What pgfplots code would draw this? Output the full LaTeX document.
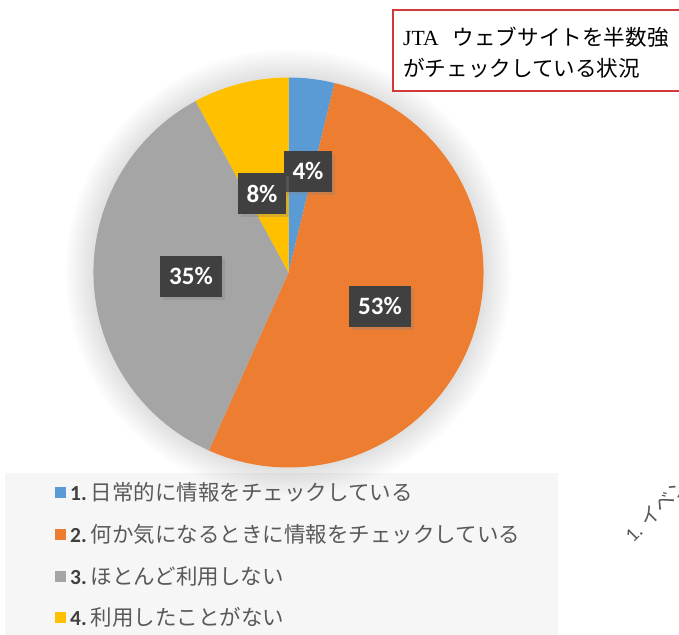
\documentclass[border=0pt]{standalone}
\usepackage{pgfplots}
\pgfplotsset{compat=1.18}
\usepackage{pgfplotstable}
\usepackage{fontspec}
\setmainfont{Carlito}
\newfontfamily\jp{Noto Sans CJK JP}
\newfontfamily\tnr{Liberation Serif}
\usetikzlibrary{shadows}

\definecolor{c0}{HTML}{5B9BD5}
\definecolor{c1}{HTML}{ED7D31}
\definecolor{c2}{HTML}{A5A5A5}
\definecolor{c3}{HTML}{FFC000}
\definecolor{lblbg}{HTML}{404040}
\definecolor{legtxt}{HTML}{595959}
\definecolor{legnum}{HTML}{404040}
\definecolor{legbg}{HTML}{F6F6F6}
\definecolor{titlered}{HTML}{D23A3A}

% share in percent, label position (axis units)
\pgfplotstableread{
share lx ly
3.8 0.100 0.518
52.9 0.469 -0.174
35.4 -0.500 -0.018
7.9 -0.136 0.405
}\piedata

% cumulative angles, clockwise from the top
\newcommand\setangles{%
  \gdef\acc{90}%
  \pgfplotsforeachungrouped \i in {0,...,3}{%
    \pgfplotstablegetelem{\i}{share}\of\piedata
    \pgfmathsetmacro\b{\acc-3.6*\pgfplotsretval}%
    \pgfmathtruncatemacro\r{round(\pgfplotsretval)}%
    \expandafter\xdef\csname sa\i\endcsname{\acc}%
    \expandafter\xdef\csname ea\i\endcsname{\b}%
    \expandafter\xdef\csname pc\i\endcsname{\r}%
    \pgfplotstablegetelem{\i}{lx}\of\piedata
    \expandafter\xdef\csname lx\i\endcsname{\pgfplotsretval}%
    \pgfplotstablegetelem{\i}{ly}\of\piedata
    \expandafter\xdef\csname ly\i\endcsname{\pgfplotsretval}%
    \xdef\acc{\b}%
  }}

\begin{document}
\setangles
\begin{tikzpicture}[
    lbl/.style={fill=lblbg, text=white, inner xsep=9bp, inner ysep=0pt,
      minimum height=41bp,
      font=\bfseries\fontsize{25bp}{25bp}\selectfont,
      drop shadow={shadow xshift=3bp, shadow yshift=-3bp, opacity=0.3}}]
  \useasboundingbox (0,0) rectangle (679bp,635bp);
  \clip (0,0) rectangle (679bp,635bp);

  % legend background
  \fill[legbg] (5bp,-2bp) rectangle (558bp,162bp);

  % soft glow around the pie
  \foreach \k in {1,...,10}
    \fill[black, opacity=0.011] (288.5bp,362.5bp) circle[radius={195bp+\k*2.8bp}];

  \begin{axis}[
      at={(288.5bp,362.5bp)}, anchor=center,
      x=195bp, y=195bp,
      xmin=-1, xmax=1, ymin=-1, ymax=1,
      hide axis, clip=false]
    \pgfplotsinvokeforeach{0,...,3}{
      \fill[c#1] (axis cs:0,0)
        -- (axis cs:{cos(\csname sa#1\endcsname)},{sin(\csname sa#1\endcsname)})
        arc[start angle=\csname sa#1\endcsname, end angle=\csname ea#1\endcsname, radius=195bp]
        -- cycle;
    }
    \pgfplotsinvokeforeach{0,...,3}{
      \node[lbl] at (axis cs:\csname lx#1\endcsname,\csname ly#1\endcsname)
        {\csname pc#1\endcsname\%};
    }
  \end{axis}

  % title box
  \draw[titlered, line width=1.3bp, fill=white] (393bp,544bp) rectangle (700bp,625bp);
  \node[anchor=base west, inner sep=0pt, font=\fontsize{21.6bp}{26bp}\selectfont]
    at (403bp,589bp) {{\tnr JTA}\hspace{14bp}{\jp ウェブサイトを半数強}};
  \node[anchor=base west, inner sep=0pt, font=\fontsize{21.6bp}{26bp}\selectfont]
    at (403bp,558bp) {{\jp がチェックしている状況}};

  % legend
  \foreach \y/\c/\n/\t in {142/c0/1/日常的に情報をチェックしている,
                           100/c1/2/何か気になるときに情報をチェックしている,
                           58/c2/3/ほとんど利用しない,
                           17/c3/4/利用したことがない} {
    \fill[\c] (55bp,\y bp-5.5bp) rectangle (66bp,\y bp+5.5bp);
    \node[anchor=base west, inner sep=0pt, font=\fontsize{21.5bp}{24bp}\selectfont]
      at (70bp,\y bp-7.5bp) {{\bfseries\color{legnum}\n.}\hspace{4bp}{\jp\color{legtxt}\t}};
  }

  % cut-off axis label at the right edge
  \node[rotate=45, anchor=base west, inner sep=0pt, text=legtxt,
        font=\fontsize{20bp}{22bp}\selectfont]
    at (633bp,91bp) {1.\hspace{6bp}{\jp イベント}};
\end{tikzpicture}
\end{document}
